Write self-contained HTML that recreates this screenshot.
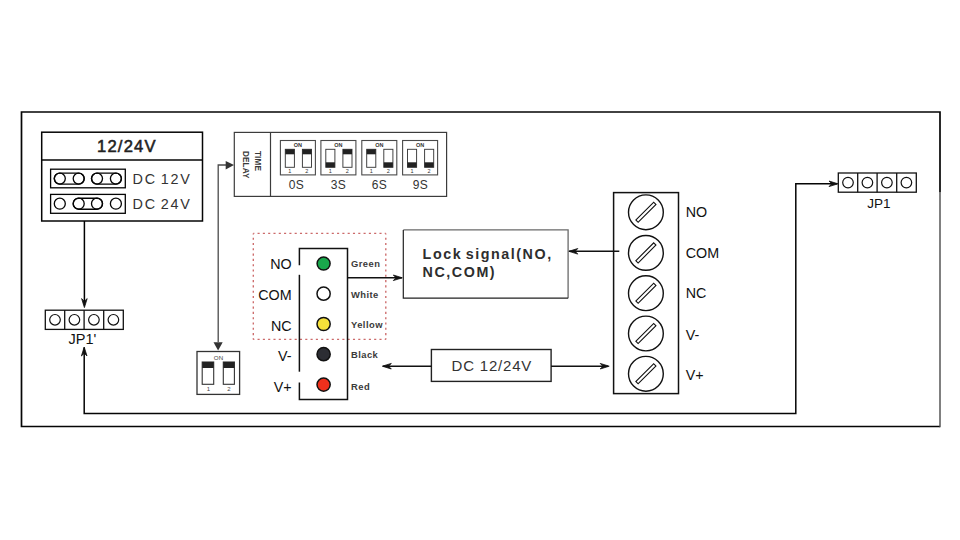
<!DOCTYPE html>
<html><head><meta charset="utf-8">
<style>
html,body{margin:0;padding:0;background:#fff;width:960px;height:540px;overflow:hidden}
svg{display:block}
text{font-family:"Liberation Sans",sans-serif}
</style></head>
<body>
<svg width="960" height="540" viewBox="0 0 960 540">
<defs>
  <path id="ah" d="M0 0 L-9 -2.8 L-6.3 0 L-9 2.8 Z" fill="#111" stroke="#111" stroke-width="0.8" stroke-linejoin="round"/>
  <g id="scr">
    <circle cx="0" cy="0" r="17.4" fill="none" stroke="#111" stroke-width="1.4"/>
    <rect x="-12.6" y="-1.6" width="25.2" height="3.2" fill="none" stroke="#111" stroke-width="1.1" transform="rotate(-45)"/>
  </g>
  <g id="sw">
    <rect x="0" y="0" width="35" height="34.4" fill="none" stroke="#4a4a4a" stroke-width="1.1"/>
    <text x="17.5" y="6.6" font-size="5.5" font-weight="bold" text-anchor="middle" fill="#333">ON</text>
    <rect x="4.9" y="8.8" width="9.1" height="18" fill="none" stroke="#3a3a3a" stroke-width="0.95"/>
    <rect x="22" y="8.8" width="9.1" height="18" fill="none" stroke="#3a3a3a" stroke-width="0.95"/>
    <text x="9.5" y="32.5" font-size="5.5" text-anchor="middle" fill="#333">1</text>
    <text x="26.5" y="32.5" font-size="5.5" text-anchor="middle" fill="#333">2</text>
  </g>
  <g id="jp">
    <rect x="0" y="0" width="78" height="19.2" fill="none" stroke="#111" stroke-width="1.3"/>
    <line x1="19.4" y1="0" x2="19.4" y2="19.2" stroke="#111" stroke-width="1.3"/>
    <line x1="38.8" y1="0" x2="38.8" y2="19.2" stroke="#111" stroke-width="1.3"/>
    <line x1="58.4" y1="0" x2="58.4" y2="19.2" stroke="#111" stroke-width="1.3"/>
    <circle cx="9.7" cy="9.6" r="5.3" fill="none" stroke="#111" stroke-width="1.2"/>
    <circle cx="29.1" cy="9.6" r="5.3" fill="none" stroke="#111" stroke-width="1.2"/>
    <circle cx="48.6" cy="9.6" r="5.3" fill="none" stroke="#111" stroke-width="1.2"/>
    <circle cx="68.1" cy="9.6" r="5.3" fill="none" stroke="#111" stroke-width="1.2"/>
  </g>
</defs>

<g fill="none" stroke="#050505" stroke-width="1.5">
  <!-- outer frame -->
  <path d="M940 192.6 L940 112 L21.5 112 L21.5 426.5 L940 426.5" stroke-width="1.7"/>
  <line x1="940" y1="192.6" x2="940" y2="427.3" stroke="#4a4a4a" stroke-width="1.4"/>
  <!-- 12/24V box -->
  <rect x="41.7" y="132.2" width="160.8" height="88.8"/>
  <line x1="41.7" y1="160" x2="202.5" y2="160"/>
  <rect x="50.6" y="169.2" width="74.7" height="18.6" stroke-width="1.3"/>
  <rect x="50.6" y="194.4" width="74.7" height="18.9" stroke-width="1.3"/>
  <!-- jumpers row1 -->
  <rect x="54.3" y="173.1" width="29.9" height="11" rx="5.5" stroke-width="1.4"/>
  <rect x="91.5" y="173.1" width="29.9" height="11" rx="5.5" stroke-width="1.4"/>
  <circle cx="59.8" cy="178.6" r="5.5" stroke-width="1.3"/>
  <circle cx="78.7" cy="178.6" r="5.5" stroke-width="1.3"/>
  <circle cx="97" cy="178.6" r="5.5" stroke-width="1.3"/>
  <circle cx="115.9" cy="178.6" r="5.5" stroke-width="1.3"/>
  <!-- row2 -->
  <rect x="73.2" y="198.2" width="29.3" height="11" rx="5.5" stroke-width="1.4"/>
  <circle cx="59.8" cy="203.7" r="5.5" stroke-width="1.3"/>
  <circle cx="78.7" cy="203.7" r="5.5" stroke-width="1.3"/>
  <circle cx="97" cy="203.7" r="5.5" stroke-width="1.3"/>
  <circle cx="115.9" cy="203.7" r="5.5" stroke-width="1.3"/>
  <!-- line to JP1' -->
  <line x1="84.4" y1="221" x2="84.4" y2="305" stroke-width="1.5" stroke="#000"/>
  <!-- route bottom -->
  <path d="M84.2 347.5 L84.2 413.5 L795.8 413.5 L795.8 183.8 L837 183.8" stroke-width="1.5"/>
</g>

<use href="#jp" x="45.3" y="310.2"/>
<use href="#jp" x="838.3" y="173"/>

<text x="97" y="152.1" font-size="16.6" fill="#222" stroke="#222" stroke-width="0.55" letter-spacing="1.2">12/24V</text>
<text x="132.6" y="183.7" font-size="14.4" fill="#333" letter-spacing="1.75" word-spacing="-2">DC 12V</text>
<text x="132.6" y="209" font-size="14.4" fill="#333" letter-spacing="1.75" word-spacing="-2">DC 24V</text>
<text x="68.5" y="344.1" font-size="14.5" fill="#111">JP1'</text>
<text x="867.3" y="208.3" font-size="13.5" fill="#111">JP1</text>

<!-- time delay -->
<g fill="none" stroke="#3c3c3c" stroke-width="1.2">
  <rect x="234.3" y="132.4" width="212.3" height="64"/>
  <line x1="270.5" y1="132.4" x2="270.5" y2="196.4"/>
</g>
<text transform="translate(254.8,151) rotate(90)" font-size="8.2" font-weight="bold" fill="#3a3a3a" letter-spacing="0.1">TIME</text>
<text transform="translate(243.3,151) rotate(90)" font-size="8.2" font-weight="bold" fill="#3a3a3a" letter-spacing="0.1">DELAY</text>
<use href="#sw" x="280.4" y="140.5"/>
<use href="#sw" x="320.9" y="140.5"/>
<use href="#sw" x="361.8" y="140.5"/>
<use href="#sw" x="402.6" y="140.5"/>
<g fill="#222">
  <rect x="285.3" y="149.3" width="9.1" height="5"/>
  <rect x="302.4" y="149.3" width="9.1" height="5"/>
  <rect x="325.8" y="162.3" width="9.1" height="5"/>
  <rect x="342.9" y="149.3" width="9.1" height="5"/>
  <rect x="366.7" y="149.3" width="9.1" height="5"/>
  <rect x="383.8" y="162.3" width="9.1" height="5"/>
  <rect x="407.5" y="162.3" width="9.1" height="5"/>
  <rect x="424.6" y="162.3" width="9.1" height="5"/>
</g>
<g font-size="12" fill="#333" text-anchor="middle" letter-spacing="0.5">
  <text x="296.5" y="188.8">0S</text>
  <text x="338.5" y="188.8">3S</text>
  <text x="379.5" y="188.8">6S</text>
  <text x="420.5" y="188.8">9S</text>
</g>
<!-- time delay arrow -->
<g stroke="#4a4a4a" stroke-width="1.3" fill="none">
  <path d="M218.2 342 L218.2 165 L226 165"/>
</g>
<path d="M225.7 161 L234 165 L225.7 169.4 Z" fill="#333"/>
<path d="M213.5 342.2 L218.1 350.4 L222.7 342.2 Z" fill="#333"/>

<!-- single switch -->
<g fill="none" stroke="#333" stroke-width="1.3">
  <rect x="197" y="351.5" width="42.6" height="42.9"/>
  <rect x="202.2" y="362" width="11.5" height="22.3" stroke-width="1.1"/>
  <rect x="223.3" y="362" width="11.1" height="22.3" stroke-width="1.1"/>
</g>
<rect x="202.2" y="362" width="11.5" height="6" fill="#222"/>
<rect x="223.3" y="362" width="11.1" height="6" fill="#222"/>
<text x="218.5" y="359.6" font-size="6.2" text-anchor="middle" fill="#444">ON</text>
<text x="208.5" y="391" font-size="6" text-anchor="middle" fill="#444">1</text>
<text x="229" y="391" font-size="6" text-anchor="middle" fill="#444">2</text>

<!-- red dashed -->
<g stroke="#cc6a6a" stroke-width="1.35" stroke-dasharray="2.1 3.2" stroke-dashoffset="1.05" fill="none">
  <line x1="253.3" y1="233.4" x2="385.8" y2="233.4"/>
  <line x1="253.3" y1="339.4" x2="385.8" y2="339.4"/>
  <line x1="253.3" y1="233.4" x2="253.3" y2="339.4"/>
  <line x1="385.8" y1="233.4" x2="385.8" y2="339.4"/>
</g>

<!-- connector -->
<g fill="none" stroke="#111" stroke-width="1.5">
  <path d="M299.4 265.2 L299.4 248.5 L347.5 248.5 L347.5 399.4 L299.4 399.4 L299.4 382.5"/>
  <line x1="299.4" y1="274.8" x2="299.4" y2="371.7"/>
</g>
<g stroke="#111" stroke-width="1.5">
  <circle cx="323.6" cy="263.6" r="6.5" fill="#19a84c"/>
  <circle cx="323.6" cy="293.7" r="6.6" fill="#fff"/>
  <circle cx="323.6" cy="324" r="6.6" fill="#f6e13a"/>
  <circle cx="323.6" cy="354.2" r="6.6" fill="#2c2d33"/>
  <circle cx="323.6" cy="384.6" r="6.6" fill="#f0301c"/>
</g>
<g font-size="14.3" fill="#111" text-anchor="end">
  <text x="291.6" y="269">NO</text>
  <text x="291.6" y="299.5">COM</text>
  <text x="291.6" y="330.6">NC</text>
  <text x="291.6" y="361">V-</text>
  <text x="291.6" y="391.7">V+</text>
</g>
<g font-size="9.4" font-weight="bold" fill="#3a3a3a" letter-spacing="0.45">
  <text x="351" y="267.1">Green</text>
  <text x="351" y="297.6">White</text>
  <text x="351" y="327.6">Yellow</text>
  <text x="351" y="357.7">Black</text>
  <text x="351" y="390">Red</text>
</g>

<!-- lock box -->
<path d="M403.3 229.9 L568.1 229.9 L568.1 298.2" fill="none" stroke="#6a6a6a" stroke-width="1.3"/>
<path d="M403.3 229.9 L403.3 298.2 L568.1 298.2" fill="none" stroke="#222" stroke-width="1.2"/>
<g font-size="14.3" font-weight="bold" fill="#2e2e2e" letter-spacing="1.55" word-spacing="-2">
  <text x="422.6" y="259">Lock signal(NO,</text>
  <text x="422.6" y="277.4">NC,COM)</text>
</g>
<!-- DC box -->
<rect x="431.4" y="349.5" width="119.7" height="31.9" fill="none" stroke="#222" stroke-width="1.4"/>
<text x="451.6" y="371" font-size="15" fill="#333" letter-spacing="0.8">DC 12/24V</text>

<g fill="none" stroke="#111" stroke-width="1.4">
  <line x1="347.5" y1="277.8" x2="402" y2="277.8"/>
  <line x1="569" y1="251.3" x2="619.3" y2="251.3"/>
  <line x1="383" y1="366.2" x2="431.4" y2="366.2"/>
  <line x1="551.1" y1="366.2" x2="608" y2="366.2"/>
</g>

<use href="#ah" transform="translate(84.4,307.6) rotate(90)"/>
<use href="#ah" transform="translate(84.2,347) rotate(-90)"/>
<use href="#ah" transform="translate(838,183.8)"/>
<use href="#ah" transform="translate(402.3,277.8)"/>
<use href="#ah" transform="translate(568.8,251.3) rotate(180)"/>
<use href="#ah" transform="translate(382.3,366.2) rotate(180)"/>
<use href="#ah" transform="translate(609.2,366.2)"/>
<!-- terminal block -->
<rect x="613.6" y="192.6" width="64.9" height="201" fill="none" stroke="#111" stroke-width="1.5"/>
<use href="#scr" x="645.9" y="212.3"/>
<use href="#scr" x="645.9" y="252.9"/>
<use href="#scr" x="645.9" y="293.2"/>
<use href="#scr" x="645.9" y="333.5"/>
<use href="#scr" x="645.9" y="373.8"/>
<g font-size="14.3" fill="#111">
  <text x="685.8" y="217.4">NO</text>
  <text x="685.8" y="257.5">COM</text>
  <text x="685.8" y="298.3">NC</text>
  <text x="685.8" y="339.7">V-</text>
  <text x="685.8" y="379.7">V+</text>
</g>
</svg>
</body></html>
